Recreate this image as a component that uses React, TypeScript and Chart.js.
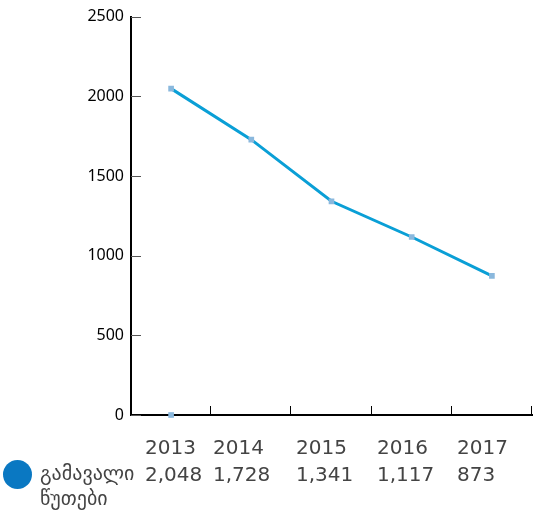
import React, { useEffect, useRef } from "react";
import { Chart, registerables } from "chart.js";

Chart.register(...registerables);

const years = ["2013", "2014", "2015", "2016", "2017"];
const minutes = [2048, 1728, 1341, 1117, 873];
const stray = [0, null, null, null, null];
const valueLabels = ["2,048", "1,728", "1,341", "1,117", "873"];
const seriesName = ["გამავალი", "წუთები"];
const yTicks = [0, 500, 1000, 1500, 2000, 2500];

const LINE = "#0a9fd6";
const POINT = "#8ab8dd";
const LEGEND = "#0a78c2";
const TEXT = "#444444";

export default function App() {
  const ref = useRef<HTMLCanvasElement>(null);

  useEffect(() => {
    if (!ref.current) return;
    const overlay = {
      id: "overlay",
      afterDraw(chart: any) {
        const { ctx, chartArea, scales } = chart;
        const ys = scales.y;
        ctx.save();
        ctx.strokeStyle = "#555";
        ctx.lineWidth = 1;
        yTicks.forEach((v) => {
          const y = Math.round(ys.getPixelForValue(v)) + 0.5;
          ctx.beginPath();
          ctx.moveTo(chartArea.left, y);
          ctx.lineTo(chartArea.left + 10, y);
          ctx.stroke();
        });
        const bw = (chartArea.right - chartArea.left) / years.length;
        ctx.strokeStyle = "#000";
        for (let i = 1; i <= years.length; i++) {
          const x = Math.round(chartArea.left + i * bw) - 0.5;
          ctx.beginPath();
          ctx.moveTo(x, chartArea.bottom);
          ctx.lineTo(x, chartArea.bottom - 9);
          ctx.stroke();
        }
        const colX = [145, 213, 296, 377, 457];
        ctx.fillStyle = TEXT;
        ctx.font = "20px 'DejaVu Sans'";
        ctx.textAlign = "left";
        ctx.textBaseline = "alphabetic";
        years.forEach((y, i) => ctx.fillText(y, colX[i], 454));
        valueLabels.forEach((v, i) => ctx.fillText(v, colX[i], 481));
        ctx.fillStyle = LEGEND;
        ctx.beginPath();
        ctx.arc(17.5, 474.5, 14.5, 0, Math.PI * 2);
        ctx.fill();
        ctx.fillStyle = TEXT;
        ctx.fillText(seriesName[0], 40, 480);
        ctx.fillText(seriesName[1], 40, 505);
        ctx.restore();
      },
    };

    const chart = new Chart(ref.current, {
      type: "line",
      data: {
        labels: years,
        datasets: [
          {
            data: minutes,
            borderColor: LINE,
            borderWidth: 3,
            pointStyle: "rect",
            pointRadius: 4,
            pointBorderWidth: 0,
            pointBackgroundColor: POINT,
            tension: 0,
          },
          {
            data: stray as any,
            showLine: false,
            pointStyle: "rect",
            pointRadius: 4,
            pointBorderWidth: 0,
            pointBackgroundColor: POINT,
            clip: false as any,
          },
        ],
      },
      options: {
        animation: false,
        responsive: false,
        devicePixelRatio: 1,
        layout: { padding: { top: 15, right: 3, left: 0, bottom: 0 } },
        plugins: { legend: { display: false }, tooltip: { enabled: false } },
        scales: {
          x: {
            type: "category",
            offset: true,
            grid: { display: false, drawTicks: false },
            border: { display: true, color: "#000", width: 2 },
            ticks: { display: false },
            afterFit: (s: any) => {
              s.height = 98;
            },
          },
          y: {
            min: 0,
            max: 2500,
            grid: { display: false, drawTicks: false },
            border: { display: true, color: "#000", width: 2 },
            ticks: {
              stepSize: 500,
              padding: 7,
              color: "#000",
              font: { family: "'Noto Sans'", size: 16 },
              callback: (v: any) => String(v),
            },
            afterFit: (s: any) => {
              s.width = 131;
            },
          },
        },
      },
      plugins: [overlay],
    });
    return () => chart.destroy();
  }, []);

  return (
    <div style={{ position: "absolute", left: 0, top: 0, width: 536, height: 513 }}>
      <canvas ref={ref} width={536} height={513} style={{ width: 536, height: 513 }} />
    </div>
  );
}
